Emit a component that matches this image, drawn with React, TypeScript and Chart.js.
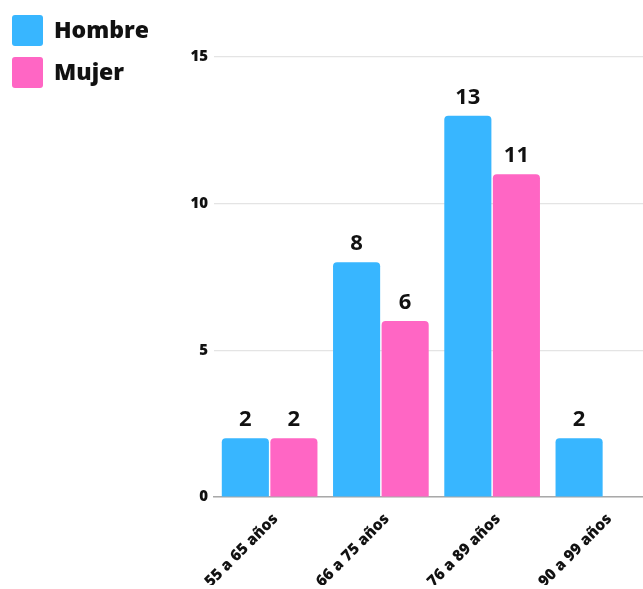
import React, { useEffect, useRef } from "react";
import { Chart, registerables } from "chart.js";

Chart.register(...registerables);

const categories = ["55 a 65 años", "66 a 75 años", "76 a 89 años", "90 a 99 años"];
const hombreValues = [2, 8, 13, 2];
const mujerValues = [2, 6, 11, 0];
const seriesNames = ["Hombre", "Mujer"];
const yTicks = [0, 5, 10, 15];

const BLUE = "#38b6ff";
const PINK = "#ff66c4";
const FONT = "'Open Sans', 'DejaVu Sans', sans-serif";

const valueLabels = {
  id: "valueLabels",
  afterDatasetsDraw(chart: any) {
    const ctx = chart.ctx;
    ctx.save();
    ctx.font = `bold 22px ${FONT}`;
    ctx.fillStyle = "#111";
    ctx.textAlign = "center";
    ctx.textBaseline = "alphabetic";
    chart.data.datasets.forEach((ds: any, di: number) => {
      const meta = chart.getDatasetMeta(di);
      meta.data.forEach((bar: any, i: number) => {
        const v = ds.data[i];
        if (!v) return;
        ctx.fillText(String(v), bar.x, bar.y - 12);
      });
    });
    ctx.restore();
  },
};

const customLegend = {
  id: "customLegend",
  afterDraw(chart: any) {
    const ctx = chart.ctx;
    ctx.save();
    ctx.font = `800 23px ${FONT}`;
    ctx.textBaseline = "middle";
    ctx.textAlign = "left";
    chart.data.datasets.forEach((ds: any, i: number) => {
      const top = 15 + i * 42;
      ctx.fillStyle = ds.backgroundColor;
      ctx.beginPath();
      (ctx as any).roundRect(12, top, 31, 31, 3);
      ctx.fill();
      ctx.fillStyle = "#111";
      ctx.fillText(ds.label, 54, top + 16);
    });
    ctx.restore();
  },
};

export default function App() {
  const ref = useRef<HTMLCanvasElement>(null);
  useEffect(() => {
    if (!ref.current) return;
    const chart = new Chart(ref.current, {
      type: "bar",
      data: {
        labels: categories,
        datasets: [
          {
            label: seriesNames[0],
            data: hombreValues,
            backgroundColor: BLUE,
            borderRadius: 4,
            borderSkipped: "bottom",
            categoryPercentage: 0.873,
            barPercentage: 0.97,
          },
          {
            label: seriesNames[1],
            data: mujerValues,
            backgroundColor: PINK,
            borderRadius: 4,
            borderSkipped: "bottom",
            categoryPercentage: 0.873,
            barPercentage: 0.97,
          },
        ],
      },
      options: {
        animation: false,
        responsive: false,
        maintainAspectRatio: false,
        layout: { padding: { left: 174, top: 57, right: 21, bottom: 4 } },
        plugins: {
          legend: { display: false },
          tooltip: { enabled: false },
        },
        scales: {
          x: {
            grid: { display: false },
            border: { display: true, color: "#a9a9a9", width: 1.5 },
            ticks: {
              font: { family: FONT, size: 15.5, weight: "800" },
              color: "#111",
              maxRotation: 45,
              minRotation: 45,
              padding: 5,
              labelOffset: 6,
            },
            afterFit(scale: any) {
              scale.height = 88;
            },
          },
          y: {
            min: 0,
            max: 15,
            afterBuildTicks(scale: any) {
              scale.ticks = yTicks.map((v) => ({ value: v }));
            },
            grid: { color: "#e4e4e4", lineWidth: 1.2, drawTicks: false },
            border: { display: false },
            ticks: {
              font: { family: FONT, size: 15, weight: "800" },
              color: "#111",
              padding: 6,
            },
            afterFit(scale: any) {
              scale.width = 40;
            },
          },
        },
      },
      plugins: [valueLabels, customLegend],
    });
    return () => chart.destroy();
  }, []);
  return (
    <div
      style={{
        position: "absolute",
        left: 0,
        top: 0,
        width: 643,
        height: 589,
        overflow: "hidden",
        background: "#fff",
      }}
    >
      <canvas ref={ref} width={680} height={589} style={{ display: "block" }} />
    </div>
  );
}
